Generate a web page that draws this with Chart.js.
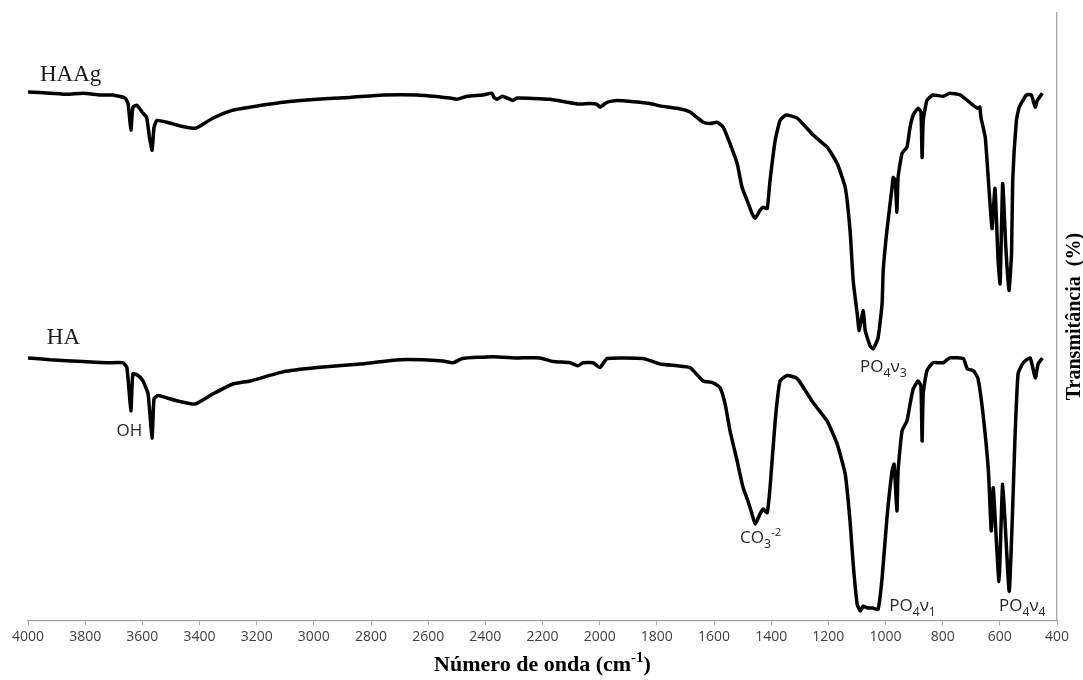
<!DOCTYPE html>
<html>
<head>
<meta charset="utf-8">
<script src="https://cdn.jsdelivr.net/npm/chart.js@4.4.1/dist/chart.umd.min.js"></script>
<style>
  html, body { margin: 0; padding: 0; background: #fff; }
  #wrap { width: 1083px; height: 680px; position: relative; }
</style>
</head>
<body>
<div id="wrap"><canvas id="ftir"></canvas></div>
<script>
// espectro HAAg (numero de onda, transmitancia)
const wnHAAg = [4000, 3923, 3864, 3808, 3748, 3703, 3661, 3650, 3640, 3633, 3619, 3601, 3585, 3575, 3566, 3559, 3549, 3514, 3468, 3416,
  3398, 3352, 3283, 3223, 3108, 2989, 2873, 2758, 2639, 2523, 2499, 2464, 2408, 2377, 2370, 2359, 2340, 2303, 2290, 2174,
  2114, 2076, 2034, 2010, 1999, 1974, 1940, 1824, 1789, 1729, 1684, 1638, 1614, 1589, 1568, 1544, 1519, 1502, 1484, 1467,
  1456, 1439, 1428, 1414, 1404, 1386, 1369, 1348, 1309, 1253, 1204, 1169, 1141, 1124, 1113, 1099, 1092, 1078, 1071, 1054,
  1043, 1026, 1012, 1008, 995, 977, 973, 966, 960, 956, 942, 925, 914, 903, 886, 876, 872, 868, 855, 834,
  798, 775, 739, 714, 693, 677, 670, 666, 651, 640, 630, 627, 617, 606, 599, 590, 579, 568, 559, 555,
  542, 532, 507, 490, 476, 469, 451];
const tHAAg = [87.0, 86.8, 86.6, 86.8, 86.5, 86.5, 86.0, 85.1, 80.7, 84.5, 84.8, 83.7, 82.8, 79.5, 77.4, 81.2, 82.3, 82.0, 81.4, 81.0,
  81.4, 82.7, 84.0, 84.5, 85.3, 85.8, 86.1, 86.5, 86.5, 86.0, 85.8, 86.3, 86.5, 86.8, 86.1, 85.8, 86.3, 85.6, 86.0, 85.8,
  85.3, 85.0, 85.1, 85.0, 84.5, 85.3, 85.6, 85.1, 84.7, 84.3, 83.7, 82.0, 81.8, 82.0, 81.2, 78.5, 75.2, 71.3, 69.1, 67.0,
  66.2, 67.5, 68.0, 67.8, 72.4, 79.0, 82.3, 83.2, 82.7, 79.9, 77.9, 75.2, 71.3, 64.2, 55.9, 50.5, 47.7, 51.0, 47.7, 45.2,
  44.7, 46.5, 52.1, 57.6, 64.2, 71.3, 72.9, 72.4, 67.2, 72.9, 76.9, 77.9, 81.2, 83.2, 84.3, 83.7, 76.2, 82.3, 85.6, 86.5,
  86.3, 86.8, 86.5, 85.6, 84.8, 84.3, 84.5, 82.8, 79.5, 72.4, 65.8, 64.5, 71.1, 59.2, 55.4, 71.9, 61.4, 54.3, 60.4, 72.4,
  82.3, 84.5, 86.5, 86.5, 84.5, 85.6, 86.8];

// espectro HA
const wnHA = [4000, 3923, 3808, 3723, 3668, 3654, 3640, 3633, 3615, 3598, 3580, 3566, 3559, 3545, 3514, 3468, 3416, 3352, 3283, 3223,
  3108, 2989, 2838, 2698, 2548, 2513, 2480, 2373, 2289, 2209, 2163, 2104, 2076, 2058, 2023, 1999, 1974, 1848, 1789, 1729,
  1684, 1638, 1603, 1579, 1561, 1544, 1519, 1498, 1481, 1467, 1456, 1439, 1428, 1414, 1404, 1386, 1369, 1344, 1309, 1253,
  1204, 1169, 1141, 1124, 1113, 1099, 1088, 1078, 1061, 1044, 1026, 1012, 995, 977, 970, 960, 956, 942, 925, 914,
  903, 886, 876, 872, 868, 855, 834, 798, 775, 728, 714, 693, 677, 659, 640, 630, 623, 603, 590, 567,
  546, 536, 518, 494, 476, 466, 451];
const tHA = [43.2, 42.9, 42.6, 42.4, 42.4, 41.6, 34.5, 40.6, 40.3, 39.4, 37.3, 30.0, 36.5, 37.0, 36.6, 36.0, 35.6, 37.3, 38.9, 39.4,
  40.9, 41.6, 42.2, 42.9, 42.7, 42.4, 43.1, 43.4, 43.2, 43.2, 42.6, 42.4, 41.9, 42.4, 42.4, 41.6, 43.1, 43.1, 42.2, 41.9,
  41.6, 39.4, 39.1, 38.3, 35.6, 31.2, 26.2, 21.8, 19.6, 17.5, 15.8, 17.5, 18.3, 17.7, 21.8, 32.8, 39.4, 40.3, 39.8, 35.8,
  32.8, 29.0, 24.1, 16.3, 9.2, 2.6, 1.5, 2.3, 2.0, 2.0, 1.8, 6.9, 16.8, 24.6, 25.7, 18.0, 24.6, 31.2, 32.8, 35.6,
  38.1, 39.4, 38.6, 29.5, 37.3, 41.1, 42.4, 42.4, 43.2, 43.1, 41.4, 41.1, 39.9, 34.0, 24.6, 14.7, 21.8, 6.4, 22.4, 4.8,
  31.2, 40.6, 42.4, 43.2, 39.9, 42.2, 43.2];

const xTickValues = [4000, 3800, 3600, 3400, 3200, 3000, 2800, 2600, 2400, 2200, 2000, 1800, 1600, 1400, 1200, 1000, 800, 600, 400];

// rotulos das bandas: [segmentos, numero de onda, transmitancia, fonte]
const bandLabels = [
  [[{ t: 'HAAg' }], 3958, 88.8, 'serif'],
  [[{ t: 'HA' }], 3934, 45.5, 'serif'],
  [[{ t: 'OH' }], 3690, 30.4, 'sans'],
  [[{ t: 'PO' }, { t: '4', sub: 1 }, { t: 'ν' }, { t: '3', sub: 1 }], 1089, 40.8, 'sans'],
  [[{ t: 'CO' }, { t: '3', sub: 1 }, { t: '-2', sup: 1 }], 1509, 12.7, 'sans'],
  [[{ t: 'PO' }, { t: '4', sub: 1 }, { t: 'ν' }, { t: '1', sub: 1 }], 987, 1.5, 'sans'],
  [[{ t: 'PO' }, { t: '4', sub: 1 }, { t: 'ν' }, { t: '4', sub: 1 }], 603, 1.5, 'sans']
];

const toXY = (wn, t) => wn.map((w, i) => ({ x: w, y: t[i] }));

function drawRich(ctx, segs, x, y, size, family, color) {
  ctx.fillStyle = color;
  ctx.textBaseline = 'alphabetic';
  ctx.textAlign = 'left';
  segs.forEach(s => {
    let fs = size, dy = 0;
    if (s.sub) { fs = size * 0.72; dy = size * 0.28; }
    if (s.sup) { fs = size * 0.68; dy = -size * 0.4; }
    ctx.font = fs + 'px ' + family;
    ctx.fillText(s.t, x, y + dy);
    x += ctx.measureText(s.t).width;
  });
}

const extras = {
  id: 'extras',
  afterDraw(chart) {
    const ctx = chart.ctx, xs = chart.scales.x, ys = chart.scales.y, a = chart.chartArea;
    ctx.save();
    bandLabels.forEach(([segs, wn, t, kind]) => {
      const px = xs.getPixelForValue(wn), py = ys.getPixelForValue(t);
      if (kind === 'serif') drawRich(ctx, segs, px, py, 23, '"Liberation Serif", serif', '#1a1a1a');
      else drawRich(ctx, segs, px, py, 17, '"Open Sans", sans-serif', '#262626');
    });
    // titulo do eixo x com sobrescrito
    ctx.fillStyle = '#000';
    const big = 'bold 22px "Liberation Serif", serif', small = 'bold 15px "Liberation Serif", serif';
    const t1 = 'Número de onda (cm', t2 = '-1', t3 = ')';
    ctx.font = big;
    const w1 = ctx.measureText(t1).width, w3 = ctx.measureText(t3).width;
    ctx.font = small;
    const w2 = ctx.measureText(t2).width;
    let x0 = (a.left + a.right) / 2 - (w1 + w2 + w3) / 2;
    const yb = chart.height - 9;
    ctx.textAlign = 'left';
    ctx.textBaseline = 'alphabetic';
    ctx.font = big;
    ctx.fillText(t1, x0, yb);
    ctx.font = small;
    ctx.fillText(t2, x0 + w1, yb - 9);
    ctx.font = big;
    ctx.fillText(t3, x0 + w1 + w2, yb);
    // titulo do eixo y, lido de baixo para cima
    ctx.translate(chart.width - 3, (a.top + a.bottom) / 2);
    ctx.rotate(-Math.PI / 2);
    ctx.textAlign = 'center';
    ctx.textBaseline = 'alphabetic';
    ctx.font = 'bold 20px "Liberation Serif", serif';
    ctx.fillText('Transmitância  (%)', 0, 0);
    ctx.restore();
  }
};

new Chart(document.getElementById('ftir'), {
  type: 'line',
  data: {
    datasets: [
      { label: 'HAAg', data: toXY(wnHAAg, tHAAg), borderColor: '#000', borderWidth: 3.5, pointRadius: 0, tension: 0.15, fill: false },
      { label: 'HA', data: toXY(wnHA, tHA), borderColor: '#000', borderWidth: 3.5, pointRadius: 0, tension: 0.15, fill: false }
    ]
  },
  options: {
    responsive: true,
    maintainAspectRatio: false,
    animation: false,
    layout: { padding: { left: 28, right: 26, top: 13, bottom: 32 } },
    plugins: { legend: { display: false }, tooltip: { enabled: false } },
    scales: {
      x: {
        type: 'linear',
        reverse: true,
        min: 400,
        max: 4000,
        afterBuildTicks: s => { s.ticks = xTickValues.map(v => ({ value: v })); },
        ticks: {
          color: '#404040', font: { family: '"Open Sans", sans-serif', size: 14 }, padding: 3, maxRotation: 0, autoSkip: false,
          callback: v => String(v)
        },
        grid: { display: true, drawOnChartArea: false, drawTicks: true, tickLength: 5, color: '#a6a6a6' },
        border: { display: true, color: '#a6a6a6', width: 1.3 }
      },
      y: {
        position: 'right',
        min: 0,
        max: 100,
        ticks: { display: false },
        grid: { display: false, drawTicks: false },
        border: { display: true, color: '#a6a6a6', width: 1.3 }
      }
    }
  },
  plugins: [extras]
});
</script>
</body>
</html>
